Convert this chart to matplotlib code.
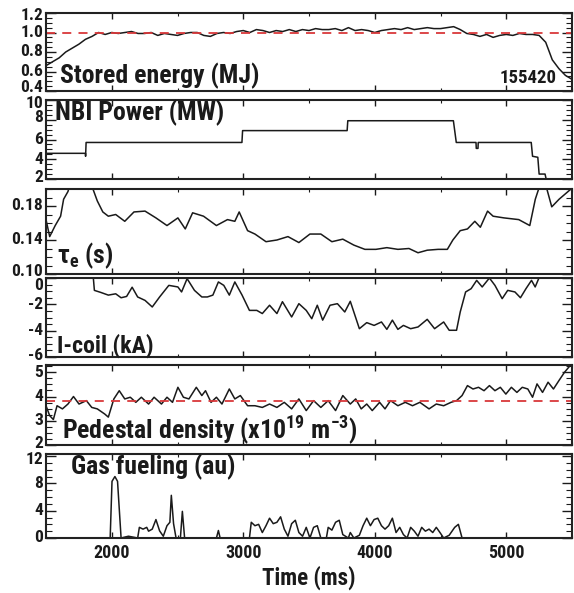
import numpy as np
import matplotlib
matplotlib.use("Agg")
import matplotlib.pyplot as plt
import matplotlib.transforms as mtransforms
from matplotlib.ticker import MultipleLocator, FixedLocator
from matplotlib import font_manager as fm

# pick a condensed bold sans if one is installed, else Liberation Sans with smaller sizes
_fonts = fm.fontManager.ttflist
_names = {f.name for f in _fonts}
if 'Roboto Condensed' in _names:
    FAMILY, SCALE = 'Roboto Condensed', 1.0
elif 'Liberation Sans Narrow' in _names:
    FAMILY, SCALE = 'Liberation Sans Narrow', 1.0
else:
    FAMILY, SCALE = 'Liberation Sans', 0.86

plt.rcParams['font.family'] = [FAMILY, 'Liberation Sans', 'DejaVu Sans']
plt.rcParams['font.weight'] = 'bold'
plt.rcParams['mathtext.fontset'] = 'custom'
plt.rcParams['mathtext.rm'] = FAMILY + ':bold'
plt.rcParams['mathtext.it'] = FAMILY + ':bold'
plt.rcParams['mathtext.bf'] = FAMILY + ':bold'

# ---------------- data ----------------
shot_label = "155420"
x_ticks = [2000, 3000, 4000, 5000]

# Stored energy (MJ)
we_t = [1500, 1550, 1600, 1650, 1700, 1750, 1800, 1850, 1900, 1950, 2000, 2050, 2100, 2150,
        2200, 2250, 2300, 2350, 2400, 2450, 2500, 2550, 2600, 2650, 2700, 2750, 2800, 2850,
        2900, 2950, 3000, 3050, 3100, 3150, 3200, 3250, 3300, 3350, 3400, 3450, 3500, 3550,
        3600, 3650, 3700, 3750, 3800, 3850, 3900, 3950, 4000, 4050, 4100, 4150, 4200, 4250,
        4300, 4350, 4400, 4450, 4500, 4550, 4600, 4650, 4700, 4750, 4800, 4850, 4900, 4950,
        5000, 5050, 5100, 5150, 5200, 5250, 5300, 5350, 5400, 5450, 5500]
we_v = [0.66, 0.70, 0.74, 0.80, 0.84, 0.88, 0.93, 0.96, 1.00, 0.98, 1.00, 0.99, 1.00, 1.01,
        0.99, 0.99, 1.00, 0.97, 0.99, 0.98, 0.97, 0.99, 1.00, 1.00, 0.97, 0.96, 0.99, 1.00,
        0.99, 1.01, 1.02, 1.00, 1.03, 1.02, 1.00, 1.02, 1.01, 1.03, 1.01, 1.03, 1.02, 1.04,
        1.03, 1.03, 1.04, 1.02, 1.05, 1.02, 1.03, 1.02, 1.00, 1.02, 1.03, 1.04, 1.03, 1.05,
        1.03, 1.04, 1.05, 1.04, 1.04, 1.05, 1.06, 1.03, 0.99, 0.98, 0.96, 0.98, 0.95, 0.97,
        0.98, 0.97, 0.99, 0.98, 0.98, 0.97, 0.90, 0.72, 0.63, 0.56, 0.52]
we_ref = 1.0
we_ticks = [0.4, 0.6, 0.8, 1.0, 1.2]

# NBI power (MW), step-like
nbi_t = [1500, 1800, 1801, 1805, 2990, 2995, 3790, 3795, 4598, 4620, 4770, 4772, 4785, 4787,
         5190, 5200, 5240, 5250, 5295, 5305, 5500]
nbi_v = [4.6, 4.6, 4.3, 5.7, 5.7, 6.9, 6.9, 7.9, 7.9, 5.7, 5.7, 5.1, 5.1, 5.7,
         5.7, 4.3, 4.2, 2.5, 2.5, 1.9, 1.9]
nbi_ticks = [2, 4, 6, 8, 10]

# Energy confinement time tau_e (s)
tau_t = [1500, 1528, 1570, 1611, 1634, 1667, 1700, 1800, 1857, 1890, 1932, 1974, 2030, 2099,
         2169, 2253, 2336, 2420, 2503, 2559, 2615, 2698, 2796, 2880, 2936, 2969, 3033, 3089,
         3173, 3256, 3340, 3423, 3507, 3590, 3674, 3757, 3841, 3925, 4009, 4092, 4176, 4260,
         4329, 4399, 4482, 4552, 4594, 4650, 4705, 4761, 4803, 4858, 4900, 4983, 5095, 5179,
         5221, 5257, 5300, 5346, 5402, 5485, 5500]
tau_v = [0.164, 0.144, 0.157, 0.168, 0.188, 0.197, 0.215, 0.215, 0.200, 0.186, 0.173, 0.168,
         0.170, 0.162, 0.173, 0.174, 0.166, 0.157, 0.166, 0.153, 0.172, 0.168, 0.157, 0.164,
         0.162, 0.173, 0.151, 0.147, 0.138, 0.140, 0.144, 0.137, 0.147, 0.147, 0.138, 0.141,
         0.134, 0.129, 0.129, 0.131, 0.129, 0.130, 0.125, 0.128, 0.129, 0.129, 0.140, 0.151,
         0.153, 0.162, 0.155, 0.174, 0.168, 0.166, 0.164, 0.157, 0.188, 0.205, 0.205, 0.179,
         0.188, 0.199, 0.201]
tau_ticks = [0.10, 0.14, 0.18]

# I-coil current (kA)
ic_t = [1500, 1850, 1860, 1868, 1918, 1974, 2030, 2071, 2113, 2155, 2197, 2253, 2308, 2364,
        2434, 2503, 2531, 2573, 2629, 2685, 2727, 2769, 2811, 2852, 2894, 2936, 2991, 3047,
        3103, 3145, 3200, 3256, 3298, 3368, 3423, 3479, 3521, 3563, 3604, 3660, 3716, 3772,
        3814, 3883, 3939, 3995, 4051, 4092, 4134, 4176, 4218, 4273, 4329, 4399, 4455, 4524,
        4566, 4622, 4650, 4691, 4733, 4775, 4817, 4872, 4914, 4969, 5011, 5066, 5108, 5150,
        5192, 5220, 5257, 5300, 5500]
ic_v = [0.5, 0.5, 0.0, -0.94, -1.10, -1.30, -1.20, -1.50, -1.40, -0.70, -1.44, -1.70, -2.20,
        -1.44, -0.56, -0.68, -1.06, -0.05, -0.94, -1.44, -1.44, -1.30, -0.30, -0.56, -1.30,
        -0.30, -1.30, -2.46, -2.46, -2.70, -2.07, -2.70, -1.80, -2.96, -1.95, -2.46, -3.09,
        -2.07, -3.20, -2.07, -1.95, -2.58, -1.77, -3.85, -3.39, -3.60, -3.34, -3.90, -3.20,
        -3.90, -3.60, -3.85, -3.72, -3.14, -3.85, -3.34, -3.97, -3.97, -2.58, -1.06, -0.81,
        -0.18, -0.68, 0.0, -0.56, -1.57, -0.94, -1.06, -1.50, -0.81, -0.18, -0.68, 0.2,
        0.5, 0.5]
ic_ticks = [-6, -4, -2, 0]

# Pedestal density (1e19 m^-3)
ne_t = [1500, 1528, 1556, 1584, 1625, 1667, 1709, 1751, 1807, 1848, 1890, 1946, 1974, 2016,
        2057, 2099, 2141, 2183, 2225, 2280, 2322, 2378, 2420, 2462, 2503, 2545, 2587, 2643,
        2685, 2713, 2755, 2796, 2838, 2894, 2936, 2978, 3033, 3089, 3145, 3200, 3256, 3312,
        3368, 3423, 3479, 3535, 3590, 3646, 3702, 3757, 3814, 3855, 3897, 3939, 3981, 4037,
        4078, 4120, 4176, 4232, 4287, 4343, 4413, 4468, 4524, 4580, 4622, 4664, 4705, 4747,
        4789, 4831, 4872, 4914, 4955, 4997, 5039, 5081, 5122, 5164, 5200, 5234, 5276, 5318,
        5359, 5401, 5443, 5485, 5500]
ne_v = [3.62, 3.21, 3.05, 3.62, 3.49, 3.69, 4.00, 3.69, 3.83, 3.55, 3.49, 3.28, 3.15, 3.90,
        4.24, 3.90, 3.97, 3.76, 3.97, 3.69, 3.97, 3.69, 3.97, 3.76, 4.38, 3.97, 3.90, 4.38,
        4.04, 4.24, 3.76, 3.97, 3.69, 4.31, 3.90, 4.04, 3.62, 3.62, 3.55, 3.69, 3.55, 3.76,
        3.49, 3.90, 3.42, 3.83, 3.55, 3.83, 3.42, 4.04, 3.69, 3.90, 3.49, 3.69, 3.42, 3.76,
        3.49, 3.83, 3.62, 3.76, 3.62, 3.76, 3.49, 3.69, 3.62, 3.76, 3.83, 4.04, 4.45, 4.31,
        4.38, 4.24, 4.45, 4.24, 4.38, 4.10, 4.38, 4.17, 4.38, 4.31, 3.97, 4.52, 4.17, 4.59,
        4.31, 4.66, 5.00, 5.27, 5.25]
ne_ref = 3.8
ne_ticks = [2, 3, 4, 5]

# Gas fueling (au)
gas_t = [1500, 1988, 2002, 2024, 2044, 2071, 2127, 2197, 2210, 2238, 2266, 2280, 2308, 2336,
         2364, 2392, 2420, 2442, 2453, 2470, 2489, 2522, 2537, 2554, 2796, 2811, 2824, 3047,
         3061, 3089, 3117, 3145, 3173, 3200, 3228, 3256, 3284, 3312, 3340, 3368, 3396, 3423,
         3451, 3479, 3507, 3535, 3563, 3590, 3632, 3646, 3674, 3702, 3730, 3757, 3799, 3814,
         3841, 3883, 3911, 3939, 3967, 3995, 4023, 4051, 4078, 4106, 4134, 4162, 4190, 4218,
         4246, 4273, 4301, 4329, 4357, 4385, 4413, 4441, 4468, 4496, 4524, 4566, 4608, 4636,
         4664, 5500]
gas_v = [0.0, 0.0, 8.3, 9.0, 8.3, 0.0, 0.26, 0.0, 1.56, 1.3, 1.56, 1.0, 1.3, 2.7,
         1.04, 0.26, 1.8, 2.3, 6.25, 2.1, 0.0, 0.0, 3.9, 0.0, 0.0, 1.1, 0.0, 0.0,
         2.3, 1.8, 2.0, 0.8, 1.8, 2.9, 2.1, 2.3, 3.1, 1.3, 0.26, 2.1, 2.6, 0.8,
         0.26, 1.56, 0.0, 1.56, 1.8, 0.0, 0.0, 1.56, 1.15, 2.3, 2.6, 0.5, 0.0, 0.8,
         0.0, 0.4, 1.8, 2.9, 1.8, 2.7, 2.9, 1.8, 1.3, 1.8, 2.9, 0.8, 1.56, 0.5,
         0.0, 1.56, 1.0, 0.26, 1.56, 1.0, 1.3, 0.8, 1.56, 0.8, 0.0, 0.4, 1.56, 2.0,
         0.0, 0.0]
gas_ticks = [0, 4, 8, 12]

# ---------------- figure ----------------
W, H = 574, 593
fig = plt.figure(figsize=(W / 100, H / 100), dpi=100)

left = 46 / W
width = 526 / W
panels_px = [(13, 91), (100, 179), (189, 274), (278, 357), (365, 445), (454, 538)]
axes = []
for top, bot in panels_px:
    ax = fig.add_axes([left, 1 - bot / H, width, (bot - top) / H])
    axes.append(ax)

LC = '#1a1a1a'
RC = '#d9383a'
LW = 1.1
TFS = 12.5 * SCALE
LFS = 18.5 * SCALE

series = [(we_t, we_v), (nbi_t, nbi_v), (tau_t, tau_v), (ic_t, ic_v), (ne_t, ne_v), (gas_t, gas_v)]
ylims = [(0.4, 1.2), (2, 10), (0.10, 0.20), (-6, 0), (2, 5.3), (0, 12.3)]
yticks = [we_ticks, nbi_ticks, tau_ticks, ic_ticks, ne_ticks, gas_ticks]
yfmt = ['%.1f', '%d', '%.2f', '%d', '%d', '%d']
yminor = [0.05, 0.5, 0.01, 0.5, 0.25, 1]
# vertical nudges (pixels, +up) of some tick labels, as in the reference
label_nudge = [{1.2: -3, 0.4: 3}, {10: -3, 8: 2, 2: 2}, {0.10: 3}, {0: -7, -6: 2},
               {2: 2}, {12: -3}]

for i, ax in enumerate(axes):
    t, v = series[i]
    ax.plot(t, v, color=LC, lw=LW, solid_joinstyle='round')
    ax.set_xlim(1500, 5500)
    ax.set_ylim(*ylims[i])
    ax.yaxis.set_major_locator(FixedLocator(yticks[i]))
    ax.yaxis.set_minor_locator(MultipleLocator(yminor[i]))
    ax.set_xticks(x_ticks)
    ax.xaxis.set_minor_locator(MultipleLocator(500))
    ax.tick_params(axis='both', which='both', direction='in', top=True, right=True,
                   labelsize=TFS, pad=2, colors=LC, labelleft=False)
    ax.tick_params(axis='y', which='major', length=7, width=1.0)
    ax.tick_params(axis='y', which='minor', length=4, width=0.8)
    ax.tick_params(axis='x', which='major', length=4, width=1.0)
    ax.tick_params(axis='x', which='minor', length=2, width=0.8)
    for s in ax.spines.values():
        s.set_linewidth(1.5)
        s.set_color('#222222')
    if i < 5:
        ax.tick_params(axis='x', labelbottom=False)
    # y tick labels drawn at the tick values
    trans = ax.get_yaxis_transform()
    for val in yticks[i]:
        dy = label_nudge[i].get(val, 0)
        off = mtransforms.ScaledTranslation(-3 / 100, dy / 100, fig.dpi_scale_trans)
        ax.text(0, val, yfmt[i] % val, transform=trans + off, ha='right', va='center',
                fontsize=TFS, fontweight='bold', color=LC, clip_on=False)

axes[0].axhline(we_ref, color=RC, lw=1.3, ls=(0, (5, 4)))
axes[4].axhline(ne_ref, color=RC, lw=1.3, ls=(0, (5, 4)))

# panel labels
axes[0].text(0.027, 0.02, 'Stored energy (MJ)', transform=axes[0].transAxes,
             fontsize=LFS, fontweight='bold', ha='left', va='bottom', color=LC)
axes[0].text(0.97, 0.05, shot_label, transform=axes[0].transAxes,
             fontsize=13.5 * SCALE, fontweight='bold', ha='right', va='bottom', color=LC)
axes[1].text(0.018, 1.0, 'NBI Power (MW)', transform=axes[1].transAxes,
             fontsize=LFS, fontweight='bold', ha='left', va='top', color=LC)
axes[2].text(0.02, 0.04, r'$\mathregular{\tau_e}$ (s)', transform=axes[2].transAxes,
             fontsize=LFS, fontweight='bold', ha='left', va='bottom', color=LC)
axes[3].text(0.02, -0.01, 'I-coil (kA)', transform=axes[3].transAxes,
             fontsize=LFS * 0.93, fontweight='bold', ha='left', va='bottom', color=LC)
axes[4].text(0.03, -0.01, r'Pedestal density (x10$^{\mathregular{19}}$ m$^{\mathregular{-3}}$)',
             transform=axes[4].transAxes,
             fontsize=LFS, fontweight='bold', ha='left', va='bottom', color=LC)
axes[5].text(0.047, 1.0, 'Gas fueling (au)', transform=axes[5].transAxes,
             fontsize=LFS, fontweight='bold', ha='left', va='top', color=LC)

for lab in axes[5].get_xticklabels():
    lab.set_fontweight('bold')
axes[5].tick_params(axis='x', pad=4, labelsize=13 * SCALE)
axes[5].set_xlabel('Time (ms)', fontsize=16.5 * SCALE, fontweight='bold', labelpad=3, color=LC)

fig.savefig('out.png', dpi=100)
